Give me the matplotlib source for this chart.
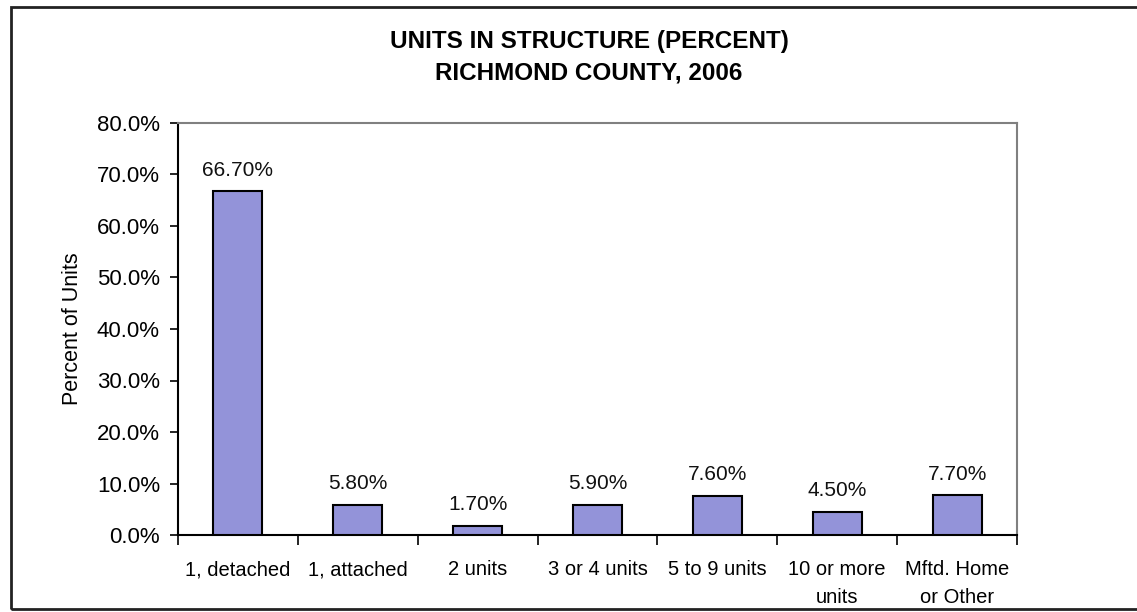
import matplotlib
matplotlib.use("Agg")
import matplotlib.pyplot as plt
from matplotlib.patches import Rectangle
from matplotlib.ticker import FuncFormatter, FixedLocator
import numpy as np

plt.rcParams['font.family'] = ['Liberation Sans', 'DejaVu Sans']

categories = ["1, detached", "1, attached", "2 units", "3 or 4 units",
              "5 to 9 units", "10 or more\nunits", "Mftd. Home\nor Other"]
values = [66.7, 5.8, 1.7, 5.9, 7.6, 4.5, 7.7]
value_labels = ["66.70%", "5.80%", "1.70%", "5.90%", "7.60%", "4.50%", "7.70%"]
title = "UNITS IN STRUCTURE (PERCENT)\nRICHMOND COUNTY, 2006"
ylabel = "Percent of Units"

W, H = 1137, 612
fig = plt.figure(figsize=(W / 100, H / 100), dpi=100)
fig.patch.set_facecolor('white')

# outer frame
fig.patches.append(Rectangle((11 / W, 1 - 609 / H), 1.2, (609 - 7) / H,
                             transform=fig.transFigure, fill=False,
                             edgecolor='#222222', linewidth=2.0))

ax = fig.add_axes([178 / W, 1 - 535 / H, (1017 - 178) / W, (535 - 123) / H])
x = np.arange(len(categories))
ax.bar(x, values, width=0.41, color='#9393d9', edgecolor='black', linewidth=1.5, zorder=3)

for xi, v, lab in zip(x, values, value_labels):
    ax.text(xi, v + 2.3, lab, ha='center', va='bottom', fontsize=15, color='#111111')

ax.set_xlim(-0.5, len(categories) - 0.5)
ax.set_ylim(0, 80)
ax.set_yticks(np.arange(0, 81, 10))
ax.yaxis.set_major_formatter(FuncFormatter(lambda v, p: f"{v:.1f}%"))
ax.tick_params(axis='y', direction='out', length=6, width=1.2, labelsize=16, pad=7)

ax.set_xticks(x)
ax.set_xticklabels(categories, fontsize=14.5, linespacing=1.6, va='top')
ax.tick_params(axis='x', which='major', length=0, pad=18)
ax.xaxis.set_minor_locator(FixedLocator(np.arange(-0.5, len(categories), 1.0)))
ax.tick_params(axis='x', which='minor', direction='out', length=7, width=1.2)

for s in ['left', 'bottom']:
    ax.spines[s].set_color('black')
    ax.spines[s].set_linewidth(1.5)
for s in ['top', 'right']:
    ax.spines[s].set_color('#808080')
    ax.spines[s].set_linewidth(1.5)

fig.text(589 / W, 1 - 57 / H, title, ha='center', va='center', fontsize=17.5,
         fontweight='bold', linespacing=1.45)
fig.text(72 / W, 1 - 329 / H, ylabel, ha='center', va='center', rotation=90, fontsize=15.5)

fig.savefig("out.png", dpi=100)
